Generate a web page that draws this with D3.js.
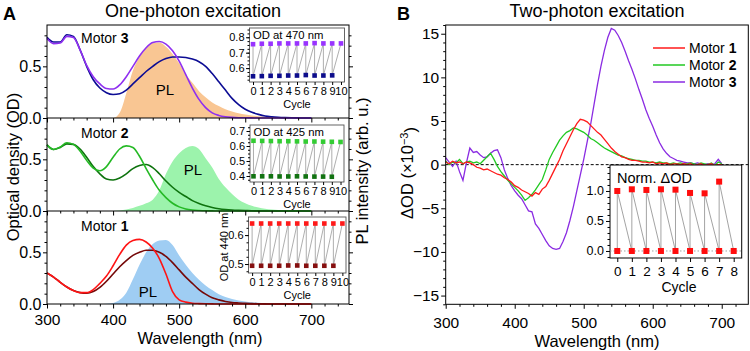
<!DOCTYPE html>
<html>
<head>
<meta charset="utf-8">
<script src="https://cdn.jsdelivr.net/npm/d3@7"></script>
<style>
  body { margin: 0; background: #fff; }
  svg { font-family: "Liberation Sans", Arial, sans-serif; }
</style>
</head>
<body>
<div id="chart"></div>
<script>
// ---------- data: one-photon absorption (OD), 300..700 nm every 10 nm
const absNm = [300,310,320,330,340,350,360,370,380,390,400,410,420,430,440,450,460,470,480,490,
  500,510,520,530,540,550,560,570,580,590,600,610,620,630,640,650,660,670,680,690,700];
const motor3Before = [0.77,0.72,0.725,0.79,0.78,0.66,0.51,0.40,0.33,0.285,
  0.28,0.32,0.40,0.50,0.60,0.68,0.73,0.74,0.715,0.65,
  0.55,0.42,0.29,0.18,0.10,0.05,0.025,0.012,0.006,0.003,
  0.002,0.001,0,0,0,0,0,0,0,0,0];
const motor3After = [0.78,0.735,0.735,0.805,0.79,0.66,0.50,0.37,0.29,0.245,
  0.228,0.235,0.27,0.33,0.39,0.45,0.50,0.545,0.575,0.59,
  0.59,0.585,0.57,0.545,0.50,0.43,0.35,0.27,0.19,0.13,
  0.085,0.055,0.035,0.02,0.012,0.007,0.004,0.002,0.001,0,0];
const motor2Before = [0.64,0.595,0.62,0.66,0.645,0.58,0.49,0.415,0.39,0.43,
  0.52,0.60,0.63,0.615,0.53,0.41,0.30,0.20,0.13,0.075,
  0.04,0.02,0.01,0.005,0.002,0.001,0,0,0,0,
  0,0,0,0,0,0,0,0,0,0,0];
const motor2After = [0.64,0.595,0.615,0.65,0.645,0.60,0.52,0.43,0.36,0.31,
  0.30,0.32,0.36,0.41,0.44,0.45,0.42,0.36,0.29,0.23,
  0.18,0.14,0.10,0.072,0.05,0.034,0.022,0.014,0.009,0.006,
  0.004,0.002,0.001,0,0,0,0,0,0,0,0];
const motor1Before = [0.30,0.26,0.21,0.165,0.13,0.11,0.11,0.14,0.20,0.27,
  0.37,0.48,0.57,0.615,0.625,0.60,0.54,0.44,0.29,0.12,
  0.04,0.018,0.008,0.004,0.002,0.001,0,0,0,0,
  0,0,0,0,0,0,0,0,0,0,0];
const motor1After = [0.30,0.26,0.21,0.165,0.13,0.11,0.105,0.12,0.16,0.22,
  0.29,0.36,0.42,0.47,0.50,0.52,0.52,0.50,0.46,0.40,
  0.33,0.26,0.20,0.14,0.095,0.06,0.04,0.025,0.015,0.01,
  0.006,0.004,0.002,0.001,0,0,0,0,0,0,0];

// photoluminescence (arb. u.), 380..700 nm every 10 nm
const plNm = [380,390,400,410,420,430,440,450,460,470,480,490,500,510,520,530,540,550,560,570,
  580,590,600,610,620,630,640,650,660,670,680,690,700];
const pl3 = [0,0,0,0.05,0.24,0.46,0.59,0.68,0.725,0.73,
  0.69,0.62,0.53,0.42,0.34,0.26,0.20,0.15,0.115,0.085,
  0.062,0.045,0.033,0.024,0.017,0.012,0.008,0.005,0.003,0.002,0.001,0,0];
const pl2 = [0,0,0,0.005,0.015,0.03,0.05,0.075,0.11,0.20,
  0.36,0.48,0.56,0.61,0.63,0.60,0.51,0.42,0.31,0.23,
  0.165,0.11,0.075,0.05,0.033,0.022,0.014,0.009,0.006,0.003,0.002,0.001,0];
const pl1 = [0,0.002,0.01,0.04,0.11,0.24,0.38,0.50,0.58,0.615,
  0.62,0.57,0.47,0.38,0.30,0.235,0.18,0.135,0.095,0.068,
  0.048,0.034,0.025,0.018,0.013,0.009,0.006,0.004,0.003,0.002,0.001,0,0];

// switching cycles (one-photon insets)
const cyclesA = [0,1,2,3,4,5,6,7,8,9,10];
const od470High = [0.755,0.758,0.758,0.76,0.76,0.76,0.76,0.762,0.76,0.76,0.76];
const od470Low = [0.547,0.548,0.55,0.55,0.552,0.552,0.555,0.552,0.552,0.553];
const od425High = [0.635,0.634,0.633,0.632,0.632,0.631,0.63,0.63,0.629,0.628,0.627];
const od425Low = [0.398,0.398,0.398,0.397,0.397,0.398,0.397,0.396,0.396,0.395];
const od440High = [0.64,0.64,0.64,0.64,0.64,0.64,0.64,0.64,0.64,0.64,0.64];
const od440Low = [0.494,0.494,0.494,0.494,0.495,0.495,0.494,0.494,0.494,0.494];

// ---------- data: two-photon transient spectra (dOD x 1e-3), 300..700 nm every 5 nm
const tpNm = [300,305,310,315,320,325,330,335,340,345,350,355,360,365,370,375,380,385,390,395,
  400,405,410,415,420,425,430,435,440,445,450,455,460,465,470,475,480,485,490,495,
  500,505,510,515,520,525,530,535,540,545,550,555,560,565,570,575,580,585,590,595,
  600,605,610,615,620,625,630,635,640,645,650,655,660,665,670,675,680,685,690,695,700];
const tpMotor1 = [0.3,0.1,0.4,0.2,0.3,0.1,0.3,0.2,0.0,-0.3,
  -0.4,-0.6,-0.5,-0.7,-0.9,-1.1,-1.2,-1.5,-1.7,-2.0,
  -2.4,-2.6,-2.9,-3.1,-3.3,-3.6,-3.2,-3.4,-2.8,-2.5,
  -1.8,-1.0,-0.2,0.6,1.6,2.4,3.2,4.0,4.7,5.2,
  5.1,4.9,4.5,4.1,3.7,3.4,2.9,2.4,1.9,1.5,
  1.2,0.9,0.8,0.6,0.5,0.5,0.4,0.3,0.3,0.2,
  0.3,0.1,0.2,0.1,0.2,0.0,0.1,0.1,0.0,0.1,
  0.0,0.1,-0.1,0.0,0.1,-0.1,0.0,0.1,-0.1,0.0,0.0];
const tpMotor2 = [0.4,0.0,0.3,0.2,0.6,0.1,0.3,0.4,0.2,0.3,
  0.1,0.5,0.9,1.3,0.6,-0.2,-0.8,-1.3,-1.8,-2.2,
  -2.6,-3.0,-3.5,-4.1,-3.8,-3.4,-2.9,-2.3,-1.7,-0.6,
  0.6,1.4,2.1,2.8,3.3,3.7,3.9,4.2,4.1,3.9,
  3.7,3.4,3.0,2.8,2.5,2.2,1.9,1.7,1.5,1.3,
  1.1,1.0,0.8,0.7,0.6,0.5,0.5,0.4,0.4,0.3,
  0.3,0.2,0.3,0.2,0.2,0.1,0.2,0.1,0.2,0.1,
  0.1,0.2,0.1,0.0,0.2,0.1,0.0,0.2,-0.1,0.3,0.1];
const tpMotor3 = [0.8,0.3,-0.2,0.4,-0.8,-1.8,0.2,1.9,1.4,1.5,
  1.1,0.8,0.9,1.3,1.6,1.7,0.8,-0.6,-1.6,-2.4,
  -3.0,-3.5,-3.9,-4.6,-5.3,-5.4,-6.8,-7.3,-8.0,-8.7,
  -9.3,-9.6,-9.7,-9.6,-8.8,-7.8,-6.4,-4.8,-3.0,-1.2,
  0.6,2.6,4.6,6.9,9.2,11.3,13.1,14.6,15.6,15.4,
  14.8,14.0,13.0,11.9,10.9,9.8,8.6,7.5,6.3,5.3,
  4.4,3.4,2.5,1.8,1.3,0.9,0.7,0.5,0.4,0.3,
  0.2,0.2,0.1,0.2,0.1,0.0,0.1,0.0,0.1,0.6,0.1];

// two-photon switching cycles (normalised)
const cyclesB = [0,1,2,3,4,5,6,7,8];
const normHigh = [1.0,1.028,1.017,1.028,1.022,0.967,0.961,1.156];
const normLow = [0,0,0,0,0,0,0,0,0];

const xTicksNm = [300,400,500,600,700];
const xMinorNm = [320,340,360,380,420,440,460,480,520,540,560,580,620,640,660,680,720,740];

// ---------- svg
const svg = d3.select("#chart").append("svg")
  .attr("width", 750).attr("height", 351);

const font = 15.5;

function styleAxis(g, size) {
  g.select(".domain").remove();
  g.selectAll("line").attr("stroke", "#000");
  g.selectAll("text").attr("fill", "#000").style("font-size", size + "px");
}

// ================= Panel A =================
const xA = d3.scaleLinear().domain([300, 757]).range([47, 349]);
const rows = [
  { top: 25, bottom: 118, num: "3", before: motor3Before, after: motor3After, pl: pl3,
    cBefore: "#8f2ff0", cAfter: "#0c0c94", cPl: "#f9c693", plPos: [165, 95], motorY: 43 },
  { top: 118, bottom: 211, num: "2", before: motor2Before, after: motor2After, pl: pl2,
    cBefore: "#25b925", cAfter: "#0e730e", cPl: "#9cf3ac", plPos: [193, 175], motorY: 138 },
  { top: 211, bottom: 304, num: "1", before: motor1Before, after: motor1After, pl: pl1,
    cBefore: "#ff1414", cAfter: "#750808", cPl: "#9fcdf3", plPos: [148, 297], motorY: 231 }
];

rows.forEach((r, i) => {
  const y = d3.scaleLinear().domain([0, 0.9]).range([r.bottom, r.top]);
  const g = svg.append("g");

  // PL area
  g.append("path")
    .datum(plNm.map((d, k) => [d, r.pl[k]]))
    .attr("fill", r.cPl)
    .attr("d", d3.area().curve(d3.curveMonotoneX)
      .x(d => xA(d[0])).y0(y(0)).y1(d => y(d[1])));

  // absorption lines
  [[r.after, r.cAfter], [r.before, r.cBefore]].forEach(([vals, col]) => {
    g.append("path")
      .datum(absNm.map((d, k) => [d, vals[k]]))
      .attr("fill", "none").attr("stroke", col).attr("stroke-width", 1.6)
      .attr("d", d3.line().curve(d3.curveMonotoneX)
        .x(d => xA(d[0])).y(d => y(d[1])));
  });

  // left axis
  const la = g.append("g").attr("transform", "translate(47,0)")
    .call(d3.axisLeft(y).tickValues([0, 0.5]).tickFormat(d3.format(".1f"))
      .tickSize(4).tickPadding(1.5));
  styleAxis(la, 16);
  const lm = g.append("g").attr("transform", "translate(47,0)")
    .call(d3.axisLeft(y).tickValues([0.1, 0.2, 0.3, 0.4, 0.6, 0.7, 0.8]).tickFormat("").tickSize(2.5));
  styleAxis(lm, 10);
  // right axis (no labels)
  const ra = g.append("g").attr("transform", "translate(349,0)")
    .call(d3.axisRight(y).tickValues([0, 0.5]).tickFormat("").tickSize(4));
  styleAxis(ra, 10);
  const rm = g.append("g").attr("transform", "translate(349,0)")
    .call(d3.axisRight(y).tickValues([0.1, 0.2, 0.3, 0.4, 0.6, 0.7, 0.8]).tickFormat("").tickSize(2.5));
  styleAxis(rm, 10);

  // bottom axis of each strip
  const ba = g.append("g").attr("transform", `translate(0,${r.bottom})`)
    .call(d3.axisBottom(xA).tickValues(xTicksNm)
      .tickFormat(i === 2 ? d3.format("d") : "").tickSize(4.5).tickPadding(5));
  styleAxis(ba, font);
  const bm = g.append("g").attr("transform", `translate(0,${r.bottom})`)
    .call(d3.axisBottom(xA).tickValues(xMinorNm).tickFormat("").tickSize(2.5));
  styleAxis(bm, 10);

  // motor label
  const t = g.append("text").attr("x", 81).attr("y", r.motorY)
    .style("font-size", "14px").text("Motor ");
  t.append("tspan").style("font-weight", "bold").text(r.num);

  g.append("text").attr("x", r.plPos[0]).attr("y", r.plPos[1])
    .attr("text-anchor", "middle").style("font-size", "15px").text("PL");
});

// panel A frame and dividers
svg.append("rect").attr("x", 47).attr("y", 25).attr("width", 302).attr("height", 279)
  .attr("fill", "none").attr("stroke", "#000").attr("stroke-width", 1);
[118, 211].forEach(v => svg.append("line").attr("x1", 47).attr("x2", 349)
  .attr("y1", v).attr("y2", v).attr("stroke", "#000"));

// one-photon insets
const insetsA = [
  { x0: 249.5, x1: 344.5, y0: 28, y1: 82, dom: [0.51, 0.86], ticks: [0.6, 0.7, 0.8],
    high: od470High, low: od470Low, cHigh: "#9933ff", cLow: "#0d0d8c", title: "OD at 470 nm" },
  { x0: 250, x1: 344, y0: 125, y1: 182, dom: [0.36, 0.74], ticks: [0.4, 0.5, 0.6, 0.7],
    high: od425High, low: od425Low, cHigh: "#33cc33", cLow: "#127312", title: "OD at 425 nm" },
  { x0: 248.5, x1: 346, y0: 217, y1: 273, dom: [0.469, 0.6625], ticks: [0.5, 0.6],
    high: od440High, low: od440Low, cHigh: "#ff1a1a", cLow: "#861010", title: "OD at 440 nm", sideTitle: true }
];

insetsA.forEach(c => {
  const g = svg.append("g");
  const x = d3.scaleLinear().domain([-0.4, 10.4]).range([c.x0, c.x1]);
  const y = d3.scaleLinear().domain(c.dom).range([c.y1, c.y0]);
  g.append("rect").attr("x", c.x0).attr("y", c.y0)
    .attr("width", c.x1 - c.x0).attr("height", c.y1 - c.y0)
    .attr("fill", "#fff").attr("stroke", "#555").attr("stroke-width", 0.9);

  const pts = [];
  cyclesA.forEach((cy, k) => {
    pts.push([cy, c.high[k]]);
    if (k < c.low.length) pts.push([cy, c.low[k]]);
  });
  g.append("path").datum(pts).attr("fill", "none").attr("stroke", "#999").attr("stroke-width", 0.8)
    .attr("d", d3.line().x(d => x(d[0])).y(d => y(d[1])));
  g.selectAll(".hi").data(c.high).join("rect")
    .attr("x", (d, k) => x(cyclesA[k]) - 2.3).attr("y", d => y(d) - 2.3)
    .attr("width", 4.6).attr("height", 4.6).attr("fill", c.cHigh);
  g.selectAll(".lo").data(c.low).join("rect")
    .attr("x", (d, k) => x(cyclesA[k]) - 2.3).attr("y", d => y(d) - 2.3)
    .attr("width", 4.6).attr("height", 4.6).attr("fill", c.cLow);

  const minors = d3.range(Math.ceil(c.dom[0] * 40), Math.floor(c.dom[1] * 40) + 1).map(v => v / 40);
  const lm = g.append("g").attr("transform", `translate(${c.x0},0)`)
    .call(d3.axisLeft(y).tickValues(minors).tickFormat("").tickSize(2));
  styleAxis(lm, 10);
  const la = g.append("g").attr("transform", `translate(${c.x0},0)`)
    .call(d3.axisLeft(y).tickValues(c.ticks).tickFormat(d3.format(".1f")).tickSize(3.5).tickPadding(1.5));
  styleAxis(la, 11);
  const ba = g.append("g").attr("transform", `translate(0,${c.y1})`)
    .call(d3.axisBottom(x).tickValues(cyclesA).tickSize(3).tickPadding(2.5));
  styleAxis(ba, 11);
  g.append("text").attr("x", (c.x0 + c.x1) / 2).attr("y", c.y1 + 26)
    .attr("text-anchor", "middle").style("font-size", "11px").text("Cycle");
  if (c.sideTitle) {
    g.append("text").attr("transform", `translate(${c.x0 - 21},${(c.y0 + c.y1) / 2 + 2}) rotate(-90)`)
      .attr("text-anchor", "middle").style("font-size", "11px").text(c.title);
  } else {
    g.append("text").attr("x", c.x0 + 3.5).attr("y", c.y0 + 10.5)
      .style("font-size", "11.3px").text(c.title);
  }
});

// panel A labels
svg.append("text").attr("x", 3).attr("y", 20).style("font-size", "18px")
  .style("font-weight", "bold").text("A");
svg.append("text").attr("x", 193).attr("y", 17).attr("text-anchor", "middle")
  .style("font-size", "18px").text("One-photon excitation");
svg.append("text").attr("x", 200).attr("y", 344).attr("text-anchor", "middle")
  .style("font-size", "16.5px").text("Wavelength (nm)");
svg.append("text").attr("transform", "translate(19,167) rotate(-90)").attr("text-anchor", "middle")
  .style("font-size", "16.5px").text("Optical density (OD)");
svg.append("text").attr("transform", "translate(368,171) rotate(-90)").attr("text-anchor", "middle")
  .style("font-size", "16.5px").text("PL intensity (arb. u.)");

// ================= Panel B =================
const xB = d3.scaleLinear().domain([300, 738.5]).range([445.7, 748.3]);
const yB = d3.scaleLinear().domain([-16, 16]).range([304.3, 25]);
const gB = svg.append("g");

gB.append("line").attr("x1", 445.7).attr("x2", 748.3).attr("y1", yB(0)).attr("y2", yB(0))
  .attr("stroke", "#000").attr("stroke-width", 1).attr("stroke-dasharray", "3,2");

const seriesB = [
  { name: "1", vals: tpMotor1, col: "#ff1a1a" },
  { name: "2", vals: tpMotor2, col: "#22c922" },
  { name: "3", vals: tpMotor3, col: "#8a2be2" }
];
[seriesB[2], seriesB[1], seriesB[0]].forEach(s => {
  gB.append("path").datum(tpNm.map((d, k) => [d, s.vals[k]]))
    .attr("fill", "none").attr("stroke", s.col).attr("stroke-width", 1.3)
    .attr("d", d3.line().x(d => xB(d[0])).y(d => yB(d[1])));
});

const bla = gB.append("g").attr("transform", "translate(445.7,0)")
  .call(d3.axisLeft(yB).tickValues([-15, -10, -5, 0, 5, 10, 15]).tickSize(4.5).tickPadding(2));
styleAxis(bla, font);
const blm = gB.append("g").attr("transform", "translate(445.7,0)")
  .call(d3.axisLeft(yB).tickValues(d3.range(-16, 17).filter(v => v % 5 !== 0)).tickFormat("").tickSize(2.5));
styleAxis(blm, 10);
const bba = gB.append("g").attr("transform", "translate(0,304.3)")
  .call(d3.axisBottom(xB).tickValues(xTicksNm).tickFormat(d3.format("d")).tickSize(4.5).tickPadding(8));
styleAxis(bba, font);
const bbm = gB.append("g").attr("transform", "translate(0,304.3)")
  .call(d3.axisBottom(xB).tickValues(xMinorNm.filter(v => v < 738)).tickFormat("").tickSize(2.5));
styleAxis(bbm, 10);
gB.append("rect").attr("x", 445.7).attr("y", 25).attr("width", 302.6).attr("height", 279.3)
  .attr("fill", "none").attr("stroke", "#000").attr("stroke-width", 1);

// legend
seriesB.forEach((s, k) => {
  const yy = 48 + k * 17;
  gB.append("line").attr("x1", 653).attr("x2", 685).attr("y1", yy).attr("y2", yy)
    .attr("stroke", s.col).attr("stroke-width", 1.5);
  const t = gB.append("text").attr("x", 689).attr("y", yy + 5).style("font-size", "14px").text("Motor ");
  t.append("tspan").style("font-weight", "bold").text(s.name);
});

// two-photon inset
{
  const x0 = 610, x1 = 741.7, y0 = 165, y1 = 258;
  const x = d3.scaleLinear().domain([-0.5, 8.55]).range([x0, x1]);
  const y = d3.scaleLinear().domain([-0.117, 1.433]).range([y1, y0]);
  const g = svg.append("g");
  g.append("rect").attr("x", x0).attr("y", y0).attr("width", x1 - x0).attr("height", y1 - y0)
    .attr("fill", "#fff").attr("stroke", "#000").attr("stroke-width", 1);
  g.append("line").attr("x1", x0).attr("x2", x1).attr("y1", y(0)).attr("y2", y(0))
    .attr("stroke", "#999").attr("stroke-dasharray", "1.5,2").attr("stroke-width", 0.9);
  const pts = [];
  cyclesB.forEach((cy, k) => {
    pts.push([cy, normLow[k]]);
    if (k < normHigh.length) pts.push([cy, normHigh[k]]);
  });
  g.append("path").datum(pts).attr("fill", "none").attr("stroke", "#999").attr("stroke-width", 0.9)
    .attr("d", d3.line().x(d => x(d[0])).y(d => y(d[1])));
  g.selectAll(".hi").data(normHigh).join("rect")
    .attr("x", (d, k) => x(cyclesB[k]) - 3).attr("y", d => y(d) - 3)
    .attr("width", 6).attr("height", 6).attr("fill", "#ff0d0d");
  g.selectAll(".lo").data(normLow).join("rect")
    .attr("x", (d, k) => x(cyclesB[k]) - 3).attr("y", d => y(d) - 3)
    .attr("width", 6).attr("height", 6).attr("fill", "#ff0d0d");

  const lm = g.append("g").attr("transform", `translate(${x0},0)`)
    .call(d3.axisLeft(y).tickValues([-0.1, 0.1, 0.2, 0.3, 0.4, 0.6, 0.7, 0.8, 0.9, 1.1, 1.2, 1.3, 1.4]).tickFormat("").tickSize(2.5));
  styleAxis(lm, 10);
  const la = g.append("g").attr("transform", `translate(${x0},0)`)
    .call(d3.axisLeft(y).tickValues([0, 0.5, 1]).tickFormat(d3.format(".1f")).tickSize(4).tickPadding(2));
  styleAxis(la, 12.5);
  const ba = g.append("g").attr("transform", `translate(0,${y1})`)
    .call(d3.axisBottom(x).tickValues(cyclesB).tickSize(4).tickPadding(4));
  styleAxis(ba, 13.5);
  g.append("text").attr("x", 679).attr("y", 292).attr("text-anchor", "middle")
    .style("font-size", "14px").text("Cycle");
  g.append("text").attr("x", 617).attr("y", 182.5).style("font-size", "14.5px").text("Norm. ΔOD");
}

// panel B labels
svg.append("text").attr("x", 397).attr("y", 20).style("font-size", "18px")
  .style("font-weight", "bold").text("B");
svg.append("text").attr("x", 597).attr("y", 17).attr("text-anchor", "middle")
  .style("font-size", "18px").text("Two-photon excitation");
svg.append("text").attr("x", 597).attr("y", 346.5).attr("text-anchor", "middle")
  .style("font-size", "16.5px").text("Wavelength (nm)");
{
  const t = svg.append("text").attr("transform", "translate(413,173) rotate(-90)")
    .attr("text-anchor", "middle").style("font-size", "16.5px").text("ΔOD (×10");
  t.append("tspan").attr("dy", "-0.5em").style("font-size", "11px").text("−3");
  t.append("tspan").attr("dy", "0.5em").text(")");
}
</script>
</body>
</html>
